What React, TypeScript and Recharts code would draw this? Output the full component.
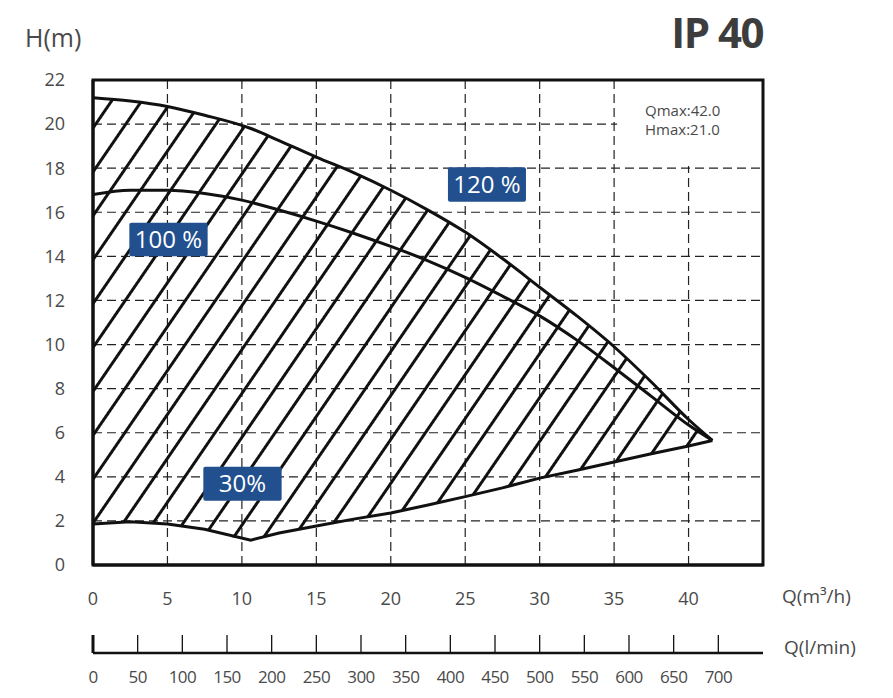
import React from 'react';
import { ComposedChart, Area, Line, XAxis, YAxis, CartesianGrid, ReferenceArea } from 'recharts';

const FONT = '"Open Sans", "Noto Sans", sans-serif';

// Flow Q (m³/h) grid used for the hatched envelope (120% top, 30% bottom)
const qGrid = [0, 2.5, 5, 7.5, 10.6, 12.5, 15, 17.5, 20, 22.5, 25, 27.5, 30, 32.5, 35, 37.5, 40, 41.6];
const h120 = [21.2, 21.05, 20.8, 20.4, 19.8, 19.25, 18.5, 17.8, 17.0, 16.1, 15.1, 13.9, 12.6, 11.3, 9.9, 8.3, 6.6, 5.65];
const h30 = [1.86, 1.96, 1.86, 1.62, 1.13, 1.45, 1.77, 2.08, 2.36, 2.72, 3.1, 3.5, 3.94, 4.3, 4.67, 5.05, 5.4, 5.65];

// 100% curve
const q100 = [0, 2.5, 5, 7.5, 10, 12.5, 15, 17.5, 20, 22.5, 25, 27.5, 30, 32.5, 35, 37.5, 40, 41.6];
const h100 = [16.8, 17.0, 17.0, 16.85, 16.55, 16.1, 15.6, 15.05, 14.45, 13.8, 13.05, 12.2, 11.3, 10.2, 8.95, 7.65, 6.35, 5.65];

const qTicks = [0, 5, 10, 15, 20, 25, 30, 35, 40];
const hTicks = [0, 2, 4, 6, 8, 10, 12, 14, 16, 18, 20, 22];
const lminTicks = [0, 50, 100, 150, 200, 250, 300, 350, 400, 450, 500, 550, 600, 650, 700];

// l/min -> m³/h
const LMIN_TO_M3H = 60 / 1000;
const lminTicksInQ = lminTicks.map((v) => v * LMIN_TO_M3H);

const envelopeData = qGrid.map((q, i) => ({ q, band: [h30[i], h120[i]], h120: h120[i], h30: h30[i] }));
const data100 = q100.map((q, i) => ({ q, h100: h100[i] }));

const BADGE = '#22508e';
const TXT = '#4a4a4a';

const LminTick = (props: any) => {
  const { x, y, payload } = props;
  const v = Math.round(payload.value / LMIN_TO_M3H);
  return (
    <g>
      <line x1={x} x2={x} y1={y - 18} y2={y} stroke="#111" strokeWidth={v === 0 ? 3 : 1.3} />
      <text x={x} y={y + 30} textAnchor="middle" fontSize={17} fill={TXT} fontFamily={FONT} letterSpacing={-0.6}>
        {v}
      </text>
    </g>
  );
};

export default function App() {
  return (
    <div style={{ position: 'absolute', left: 0, top: 0, width: 893, height: 698, background: '#fff' }}>
      <ComposedChart
        width={893}
        height={698}
        data={envelopeData}
        margin={{ top: 80, right: 130, left: 0, bottom: 0 }}
      >
        <CartesianGrid stroke="#222" strokeWidth={1.2} strokeDasharray="9 5" />
        <XAxis
          dataKey="q"
          type="number"
          domain={[0, 45]}
          ticks={qTicks}
          interval={0}
          height={88}
          tickLine={false}
          tickSize={0}
          tickMargin={27}
          axisLine={{ stroke: '#111', strokeWidth: 3 }}
          tick={{ fontSize: 18, fill: TXT, fontFamily: FONT }}
          allowDataOverflow
        />
        <XAxis
          xAxisId="lmin"
          dataKey="q"
          type="number"
          domain={[0, 45]}
          ticks={lminTicksInQ}
          interval={0}
          height={45}
          tickLine={false}
          tickSize={0}
          tickMargin={0}
          axisLine={{ stroke: '#111', strokeWidth: 2.5 }}
          tick={<LminTick />}
          allowDataOverflow
        />
        <YAxis
          type="number"
          domain={[0, 22]}
          ticks={hTicks}
          interval={0}
          width={93}
          tickLine={false}
          tickSize={0}
          tickMargin={28}
          axisLine={{ stroke: '#111', strokeWidth: 3 }}
          tick={{ fontSize: 18, fill: TXT, fontFamily: FONT }}
          allowDataOverflow
        />
        <ReferenceArea x1={35.2} x2={45} y1={18.1} y2={22} fill="#fff" fillOpacity={1} stroke="none" />
        <Area
          dataKey="band"
          type="monotone"
          stroke="none"
          fill="url(#hatch)"
          fillOpacity={1}
          isAnimationActive={false}
          dot={false}
          activeDot={false}
        />
        <Line dataKey="h120" type="monotone" stroke="#111" strokeWidth={3} dot={false} activeDot={false} isAnimationActive={false} />
        <Line dataKey="h30" type="linear" stroke="#111" strokeWidth={3} dot={false} activeDot={false} isAnimationActive={false} />
        <Line data={data100} dataKey="h100" type="monotone" stroke="#111" strokeWidth={3} dot={false} activeDot={false} isAnimationActive={false} />
        <ReferenceArea x1={0} x2={45} y1={0} y2={22} fill="none" stroke="#111" strokeWidth={3} />
        <ReferenceArea
          x1={23.84} x2={29.08} y1={16.48} y2={18.04}
          fill={BADGE} fillOpacity={1} stroke="none" radius={2}
          label={{ value: '120 %', position: 'center', fill: '#fff', fontSize: 24, fontFamily: FONT }}
        />
        <ReferenceArea
          x1={2.44} x2={7.7} y1={14.01} y2={15.52}
          fill={BADGE} fillOpacity={1} stroke="none" radius={2}
          label={{ value: '100 %', position: 'center', fill: '#fff', fontSize: 24, fontFamily: FONT }}
        />
        <ReferenceArea
          x1={7.41} x2={12.67} y1={2.92} y2={4.46}
          fill={BADGE} fillOpacity={1} stroke="none" radius={2}
          label={{ value: '30%', position: 'center', fill: '#fff', fontSize: 24, fontFamily: FONT }}
        />
      </ComposedChart>
      <svg
        width={893}
        height={698}
        style={{ position: 'absolute', left: 0, top: 0, pointerEvents: 'none' }}
      >
        <defs>
          <pattern id="hatch" patternUnits="userSpaceOnUse" x={0} y={-12.1} width={60} height={24.8} patternTransform="rotate(-55.6)">
            <line x1={-5} y1={12.4} x2={65} y2={12.4} stroke="#111" strokeWidth={2.8} />
          </pattern>
        </defs>
        <text x={25} y={47} fontSize={25} fill={TXT} fontFamily={FONT}>H(m)</text>
        <text x={763} y={48} textAnchor="end" fontSize={42} fontWeight="bold" fill="#3d3d3d" fontFamily={FONT} letterSpacing={-1.5}>IP 40</text>
        <text x={645} y={116} fontSize={15} fill={TXT} fontFamily={FONT}>Qmax:42.0</text>
        <text x={645} y={135} fontSize={15} fill={TXT} fontFamily={FONT}>Hmax:21.0</text>
        <text x={782} y={603} fontSize={19} fill={TXT} fontFamily={FONT}>Q(m³/h)</text>
        <text x={784} y={654} fontSize={19} fill={TXT} fontFamily={FONT}>Q(l/min)</text>
      </svg>
    </div>
  );
}
